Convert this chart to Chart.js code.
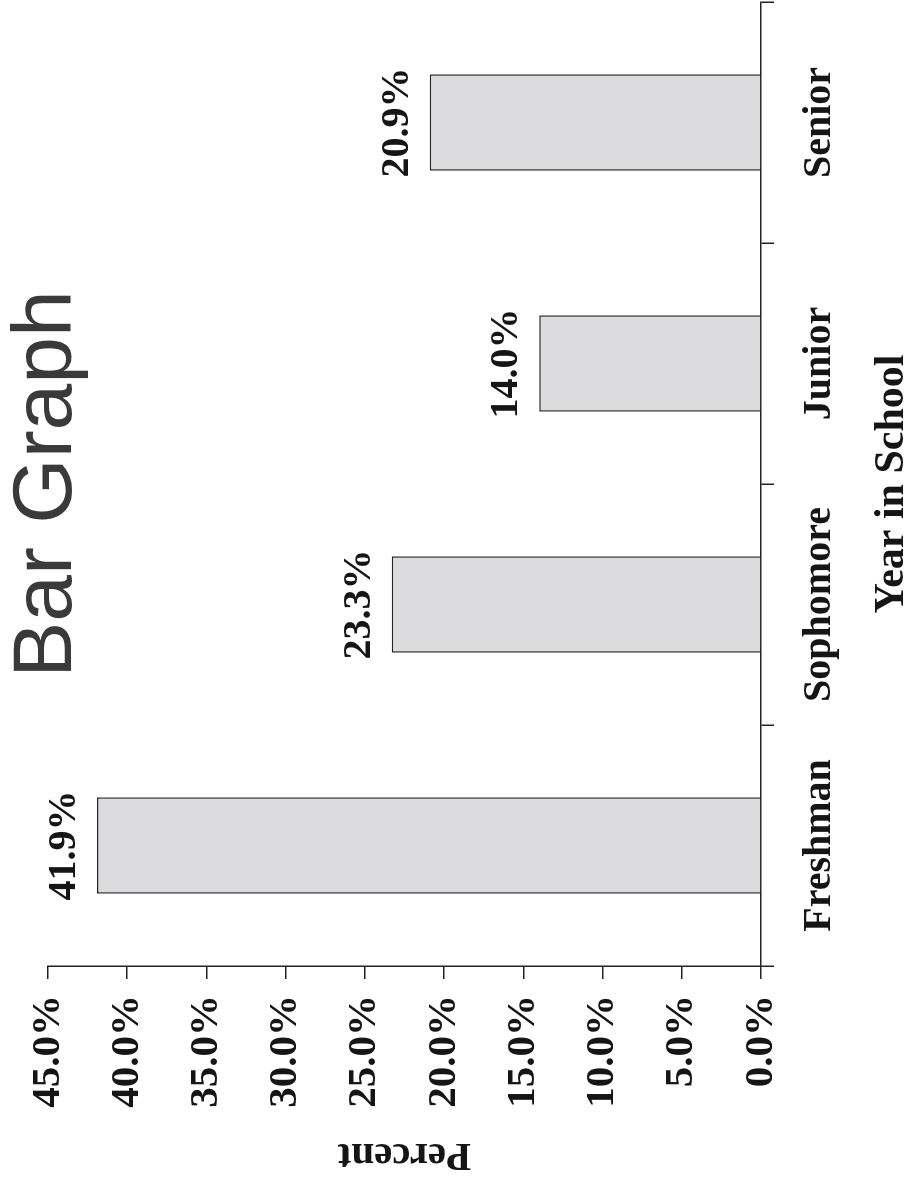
<!DOCTYPE html>
<html>
<head>
<meta charset="utf-8">
<title>Bar Graph</title>
<script src="https://cdn.jsdelivr.net/npm/chart.js@4.4.0/dist/chart.umd.min.js"></script>
<style>
  html, body { margin: 0; padding: 0; background: #fff; overflow: hidden; }
  /* the chart is drawn upright, then turned a quarter turn like the scanned page */
  #wrap {
    position: absolute; left: 0; top: 0;
    width: 1181px; height: 913px;
    transform-origin: 0 0;
    transform: translate(0px, 1181px) rotate(-90deg);
  }
</style>
</head>
<body>
<div id="wrap"><canvas id="chart" width="1181" height="913"></canvas></div>
<script>
const categories = ['Freshman', 'Sophomore', 'Junior', 'Senior'];
const percents = [41.9, 23.3, 14.0, 20.9];
const percentMin = 0;
const percentMax = 45;
const percentStep = 5;

const serif = '"Liberation Serif", "Times New Roman", serif';
const ink = '#151515';

// labels above each bar ("41.9%" ...)
const valueLabels = {
    id: 'valueLabels',
    afterDatasetsDraw(chart) {
        let ctx = chart.ctx;
        let meta = chart.getDatasetMeta(0);
        ctx.save();
        ctx.font = 'bold 40px ' + serif;
        ctx.fillStyle = ink;
        ctx.textAlign = 'center';
        ctx.textBaseline = 'alphabetic';
        meta.data.forEach(function(bar, i) {
            ctx.fillText(percents[i].toFixed(1) + '%', bar.x, bar.y - 22);
        });
        ctx.restore();
    }
};

let ctx = document.getElementById('chart').getContext('2d');

new Chart(ctx, {
    type: 'bar',
    data: {
        labels: categories,
        datasets: [{
            label: 'Percent',
            data: percents,
            backgroundColor: '#dcdcdf',
            borderColor: '#222',
            borderWidth: 1.5,
            barPercentage: 0.5,
            categoryPercentage: 0.8
        }]
    },
    options: {
        responsive: false,
        animation: false,
        devicePixelRatio: 1,
        layout: {padding: {left: 0, right: 2, top: 0, bottom: 0}},
        plugins: {
            legend: {display: false},
            tooltip: {enabled: false},
            title: {
                display: true,
                text: 'Bar Graph',
                fullSize: false,
                color: '#3a3a3a',
                font: {family: '"Liberation Sans", Arial, sans-serif', size: 84, weight: 'normal', lineHeight: 1},
                padding: {top: 6, bottom: -42}
            }
        },
        scales: {
            x: {
                grid: {display: true, drawOnChartArea: false, drawTicks: true, tickLength: 13, color: '#222', lineWidth: 1.5},
                border: {display: true, color: '#222', width: 1.5},
                ticks: {
                    color: ink, padding: 22, autoSkip: false, maxRotation: 0,
                    font: {family: serif, size: 40, weight: 'bold'}
                },
                title: {
                    display: true, text: 'Year in School', color: ink,
                    font: {family: serif, size: 42, weight: 'bold', lineHeight: 1},
                    padding: {top: 0, bottom: 0}
                },
                afterFit: function(scale) { scale.height = 152; }
            },
            y: {
                min: percentMin,
                max: percentMax,
                grid: {display: true, drawOnChartArea: false, drawTicks: true, tickLength: 13, color: '#222', lineWidth: 1.5},
                border: {display: true, color: '#222', width: 1.5},
                ticks: {
                    stepSize: percentStep, color: ink, padding: 16,
                    font: {family: serif, size: 41, weight: 'bold'},
                    callback: function(v) { return v.toFixed(1) + '%'; }
                },
                title: {
                    display: true, text: 'Percent', color: ink,
                    font: {family: serif, size: 41, weight: 'bold', lineHeight: 1},
                    padding: {top: 6, bottom: 0}
                },
                afterFit: function(scale) { scale.width = 215; }
            }
        }
    },
    plugins: [valueLabels]
});
</script>
</body>
</html>
